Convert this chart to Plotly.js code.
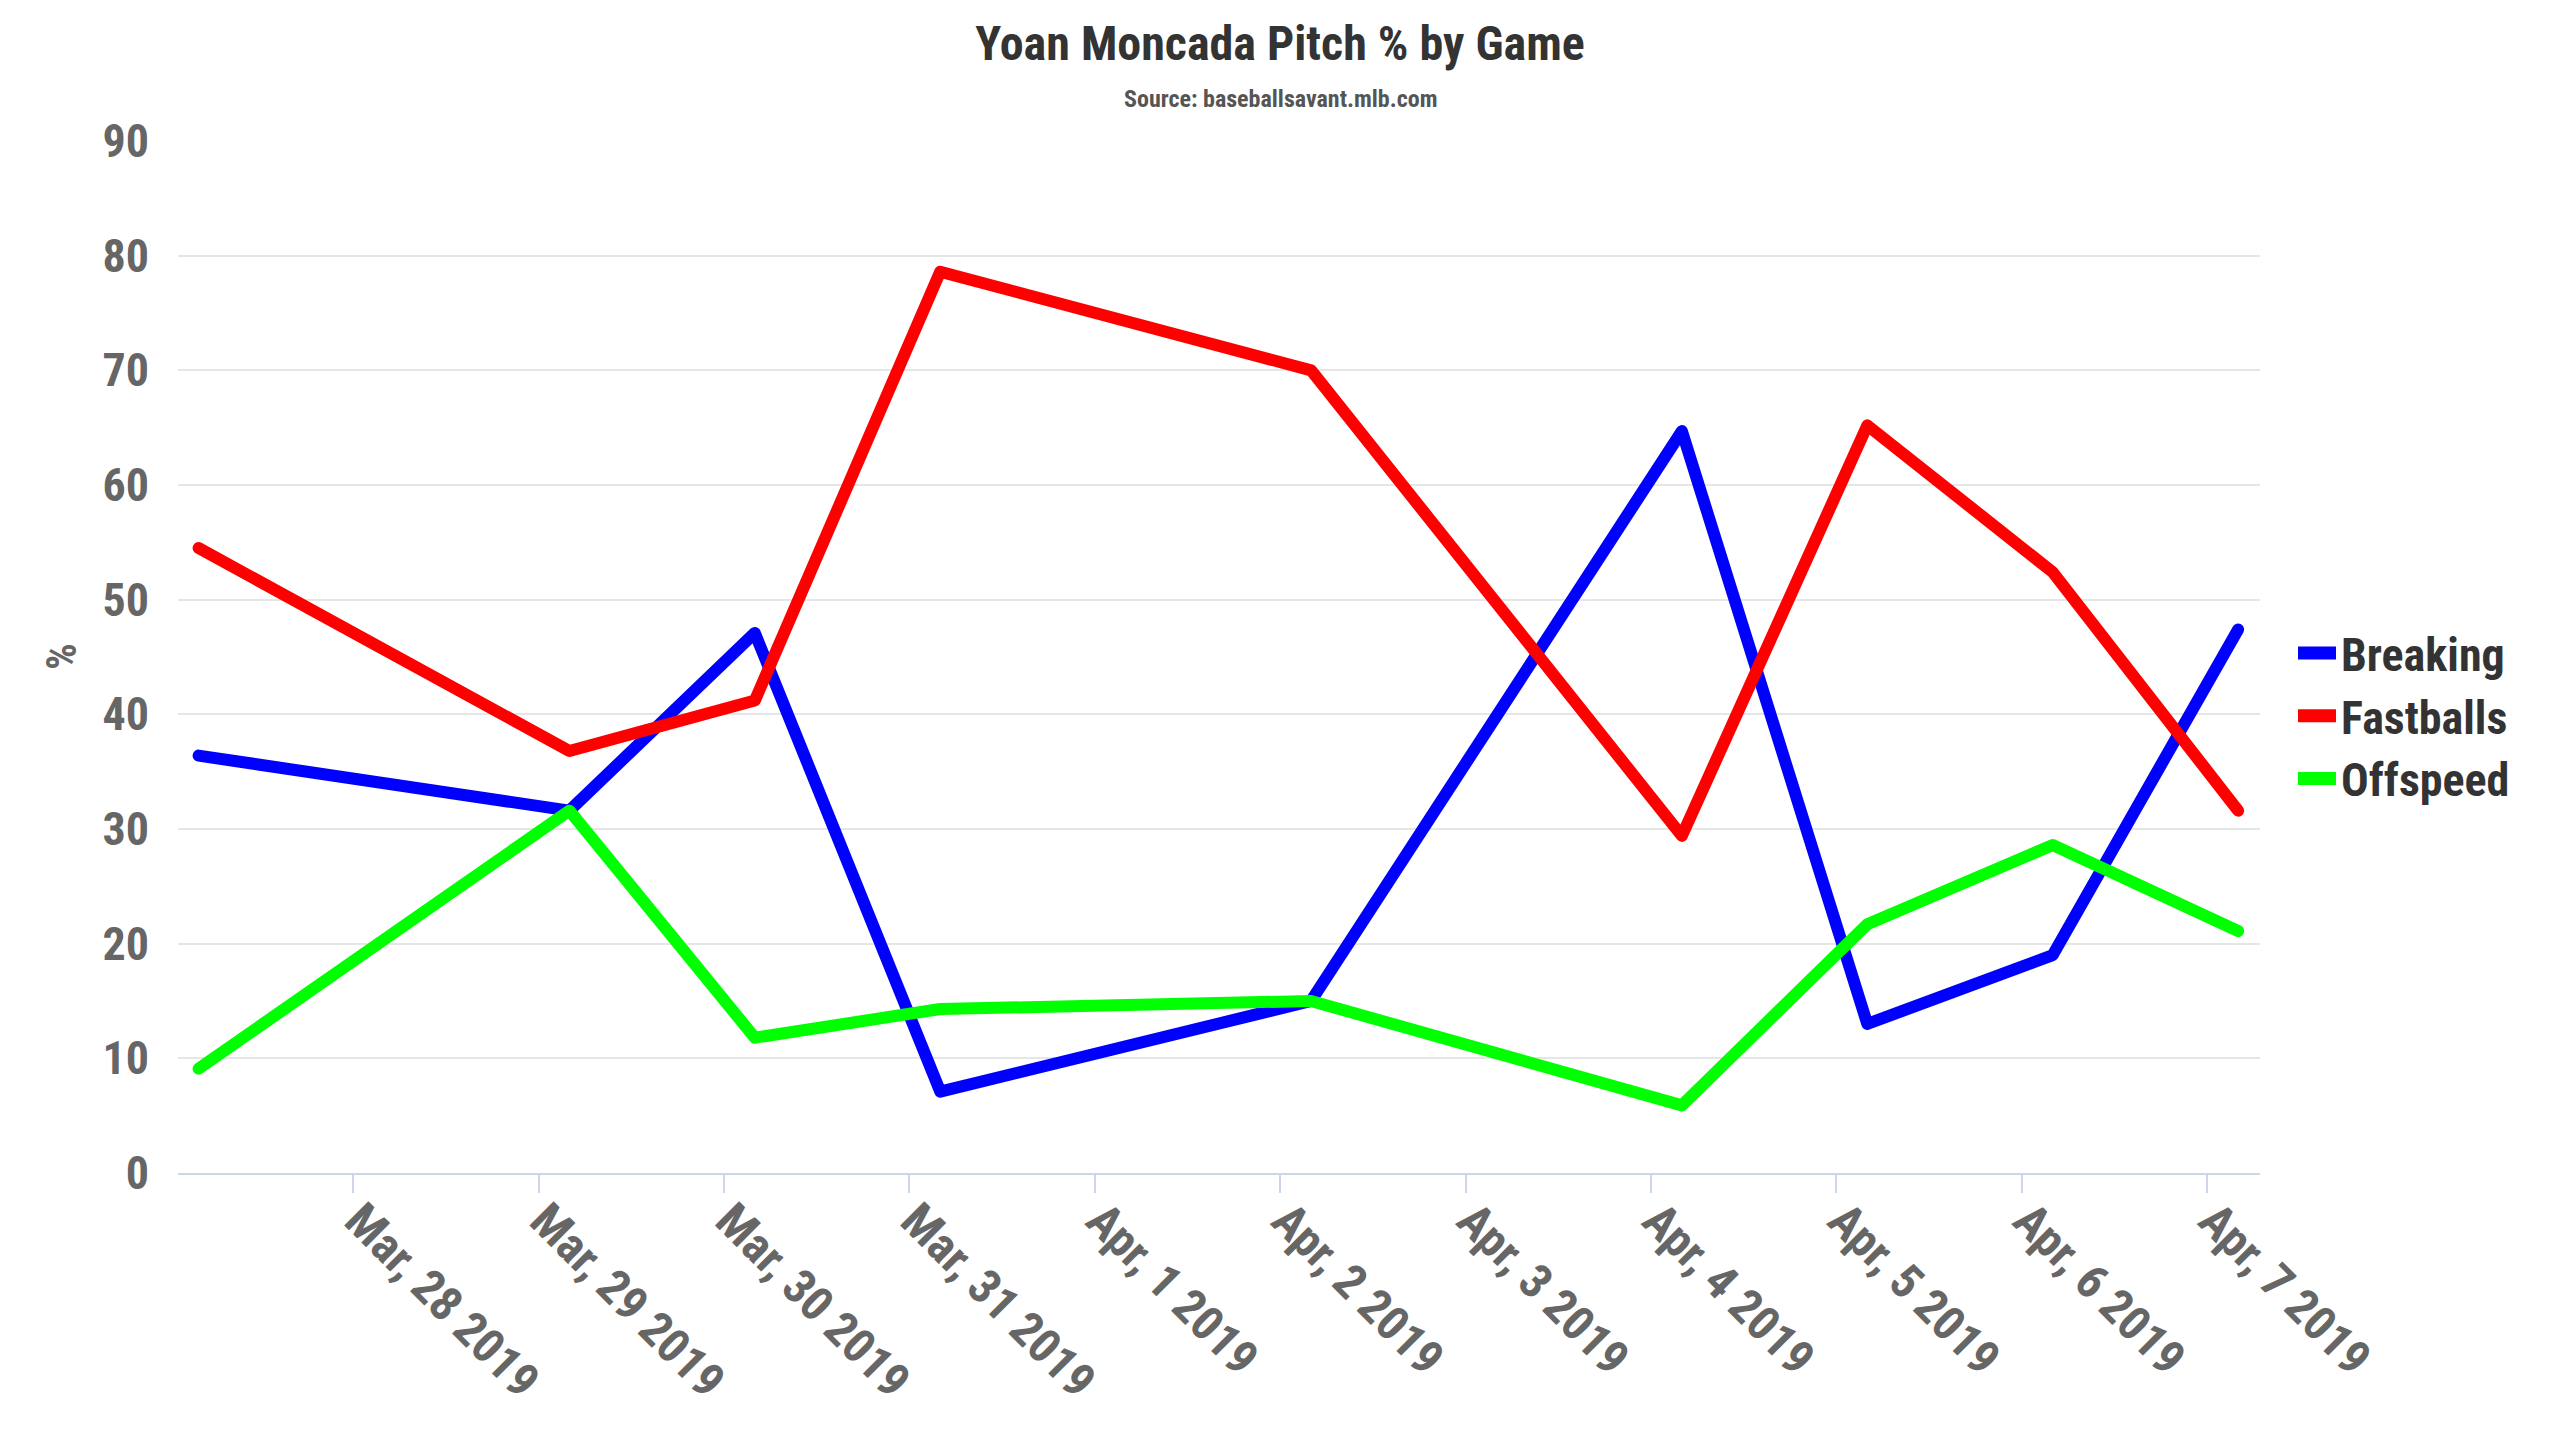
<!DOCTYPE html>
<html>
<head>
<meta charset="utf-8">
<script src="https://cdn.plot.ly/plotly-3.0.1.min.js"></script>
<style>
  html, body { margin: 0; padding: 0; background: #fff; }
  #chart { width: 2560px; height: 1440px; }
  /* 線の端と折れ目は丸く(凡例のアイコンは四角のまま、少し太く) */
  .scatterlayer .js-line { stroke-linecap: round; stroke-linejoin: round; }
  .legend .js-line { stroke-width: 13px !important; }
</style>
</head>
<body>
<div id="chart"></div>
<script>
// 試合ごとの球種割合(%)。日付はその日の 04:00 に置く(目盛りは 0:00)。
const gameDates = [
  "2019-03-27 04:00", "2019-03-29 04:00", "2019-03-30 04:00", "2019-03-31 04:00",
  "2019-04-02 04:00", "2019-04-04 04:00", "2019-04-05 04:00", "2019-04-06 04:00",
  "2019-04-07 04:00"
]
const breaking  = [36.4, 31.6, 47.1,  7.1, 15.0, 64.7, 13.0, 19.0, 47.4]
const fastballs = [54.5, 36.8, 41.2, 78.6, 70.0, 29.4, 65.2, 52.4, 31.6]
const offspeed  = [ 9.1, 31.6, 11.8, 14.3, 15.0,  5.9, 21.7, 28.6, 21.1]

const seriesNames  = ["Breaking", "Fastballs", "Offspeed"]
const seriesColors = ["#0000ff", "#ff0000", "#00ff00"]

const fontFamily = "'Roboto Condensed', 'Liberation Sans Narrow', 'DejaVu Sans Condensed', Roboto, sans-serif"

const traces = [breaking, fastballs, offspeed].map((values, i) => ({
  type: "scatter",
  mode: "lines",
  x: gameDates,
  y: values,
  name: seriesNames[i],
  line: { color: seriesColors[i], width: 12 }
}))

const layout = {
  width: 2560,
  height: 1440,
  paper_bgcolor: "#ffffff",
  plot_bgcolor: "#ffffff",
  font: { family: fontFamily, color: "#666666", weight: "bold" },
  margin: { l: 178, r: 300, t: 141, b: 267, autoexpand: false },
  title: {
    text: "Yoan Moncada Pitch % by Game",
    font: { family: fontFamily, size: 48, color: "#333333", weight: "bold" },
    x: 0.5, xref: "container", xanchor: "center",
    y: 1 - 43 / 1440, yref: "container", yanchor: "middle"
  },
  annotations: [
    {
      text: "Source: baseballsavant.mlb.com",
      xref: "paper", yref: "paper",
      x: (1280 - 178) / 2082, xanchor: "center",
      y: 1 + 42 / 1032, yanchor: "middle",
      showarrow: false,
      font: { family: fontFamily, size: 24, color: "#555555", weight: "bold" }
    },
    {
      // y軸の見出し
      text: "%",
      xref: "paper", yref: "paper",
      x: (61 - 178) / 2082, xanchor: "center",
      y: 0.5, yanchor: "middle",
      textangle: -90,
      showarrow: false,
      font: { family: fontFamily, size: 42, color: "#666666", weight: "bold" }
    }
  ],
  showlegend: true,
  legend: {
    x: 2293 / 2560, xref: "container", xanchor: "left",
    y: 0.5 + 4 / 1440, yref: "container", yanchor: "middle",
    font: { family: fontFamily, size: 46, color: "#333333", weight: "bold" },
    bgcolor: "rgba(0,0,0,0)",
    itemwidth: 38,
    tracegroupgap: 0
  },
  xaxis: {
    type: "date",
    range: ["2019-03-27 01:20", "2019-04-07 06:50"],
    tick0: "2019-03-28",
    dtick: 86400000,
    tickformat: "%b, %-d %Y",
    tickangle: 45,
    ticks: "outside",
    ticklen: 18,
    tickwidth: 2,
    tickcolor: "#ccd6eb",
    ticklabelstandoff: -20,
    ticklabelshift: 6,
    showline: true,
    linecolor: "#ccd6eb",
    linewidth: 2,
    showgrid: false,
    zeroline: false,
    tickfont: { family: fontFamily, size: 48, color: "#666666", weight: "bold" }
  },
  yaxis: {
    range: [0, 90],
    dtick: 10,
    showgrid: true,
    gridcolor: "#e6e6e6",
    gridwidth: 2,
    zeroline: false,
    showline: false,
    ticks: "",
    ticklabelstandoff: 28,
    tickfont: { family: fontFamily, size: 46, color: "#666666", weight: "bold" }
  }
}

Plotly.newPlot("chart", traces, layout, { displayModeBar: false, staticPlot: true })
</script>
</body>
</html>
